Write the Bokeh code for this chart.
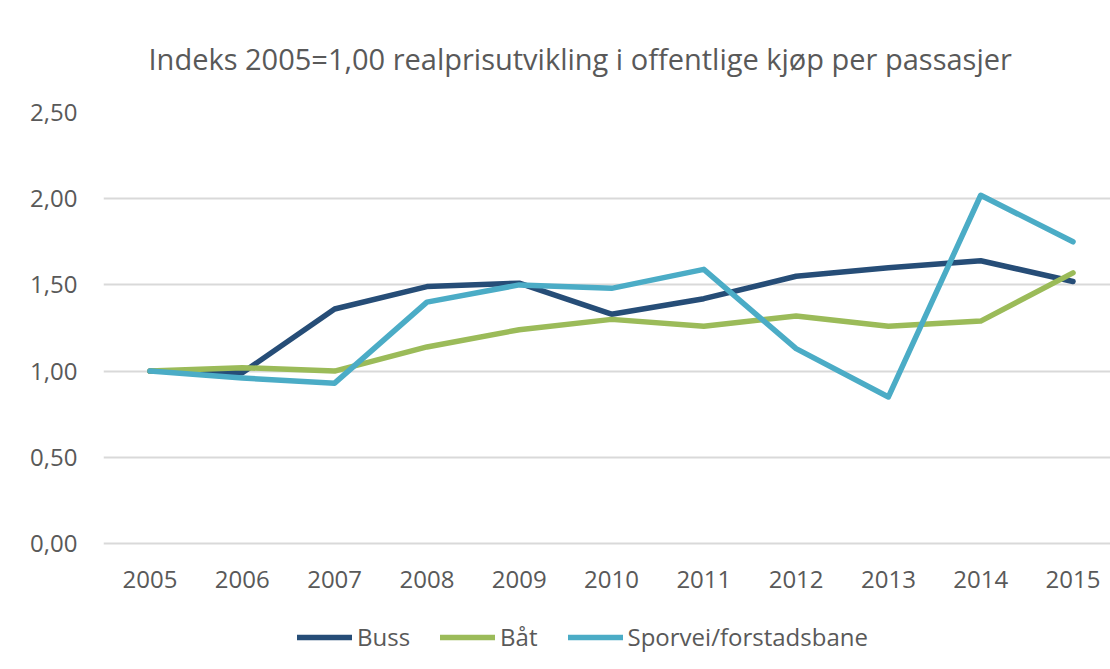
from bokeh.plotting import figure
from bokeh.models import Range1d, FixedTicker, CustomJSTickFormatter, Legend, LegendItem
from bokeh.embed import file_html
from bokeh.resources import INLINE

years = [2005, 2006, 2007, 2008, 2009, 2010, 2011, 2012, 2013, 2014, 2015]
buss = [1.00, 0.99, 1.36, 1.49, 1.51, 1.33, 1.42, 1.55, 1.60, 1.64, 1.52]
baat = [1.00, 1.02, 1.00, 1.14, 1.24, 1.30, 1.26, 1.32, 1.26, 1.29, 1.57]
sporvei = [1.00, 0.96, 0.93, 1.40, 1.50, 1.48, 1.59, 1.13, 0.85, 2.02, 1.75]
y_ticks = [0.0, 0.5, 1.0, 1.5, 2.0, 2.5]
series_names = ["Buss", "Båt", "Sporvei/forstadsbane"]
colors = ["#264d77", "#9bbb59", "#4bacc6"]
title_text = "Indeks 2005=1,00  realprisutvikling i offentlige kjøp per passasjer"

FONT = "Open Sans"
TXT = "#595959"

p = figure(frame_width=1007, frame_height=553, output_backend="svg", toolbar_location=None,
           x_range=Range1d(2004.496, 2015.406), y_range=Range1d(-0.7077, 2.5),
           min_border_left=103, min_border_right=0, min_border_top=112, min_border_bottom=0)

p.title.text = title_text
p.title.align = "left"
p.title.offset = 45
p.title.standoff = 69
p.title.text_font = FONT
p.title.text_font_size = "29px"
p.title.text_font_style = "normal"
p.title.text_color = TXT

renderers = []
for ys, c in zip([buss, baat, sporvei], colors):
    r = p.line(years, ys, line_color=c, line_width=5.5, line_cap="round", line_join="round")
    renderers.append(r)

p.outline_line_color = None
p.xgrid.grid_line_color = None
p.ygrid.grid_line_color = "#d9d9d9"
p.ygrid.grid_line_width = 2
p.ygrid.ticker = FixedTicker(ticks=y_ticks)

p.yaxis.ticker = FixedTicker(ticks=y_ticks)
p.yaxis.formatter = CustomJSTickFormatter(code="return tick.toFixed(2).replace('.', ',');")
p.xaxis.ticker = FixedTicker(ticks=years)
p.xaxis.fixed_location = 0
for ax in [p.xaxis[0], p.yaxis[0]]:
    ax.axis_line_color = None
    ax.major_tick_line_color = None
    ax.minor_tick_line_color = None
    ax.major_tick_out = 0
    ax.major_tick_in = 0
    ax.major_label_text_font = FONT
    ax.major_label_text_font_size = "24px"
    ax.major_label_text_color = TXT
p.yaxis.major_label_standoff = 26
p.xaxis.major_label_standoff = 28

legend = Legend(items=[LegendItem(label=n, renderers=[r]) for n, r in zip(series_names, renderers)],
                orientation="horizontal", location=(194, 12))
legend.label_text_font = FONT
legend.label_text_font_size = "24px"
legend.label_text_color = TXT
legend.glyph_width = 55
legend.glyph_height = 20
legend.label_standoff = 5
legend.spacing = 30
legend.padding = 0
legend.margin = 0
legend.border_line_color = None
legend.background_fill_alpha = 0
p.add_layout(legend, "center")

open("out.html", "w").write(file_html(p, INLINE))
